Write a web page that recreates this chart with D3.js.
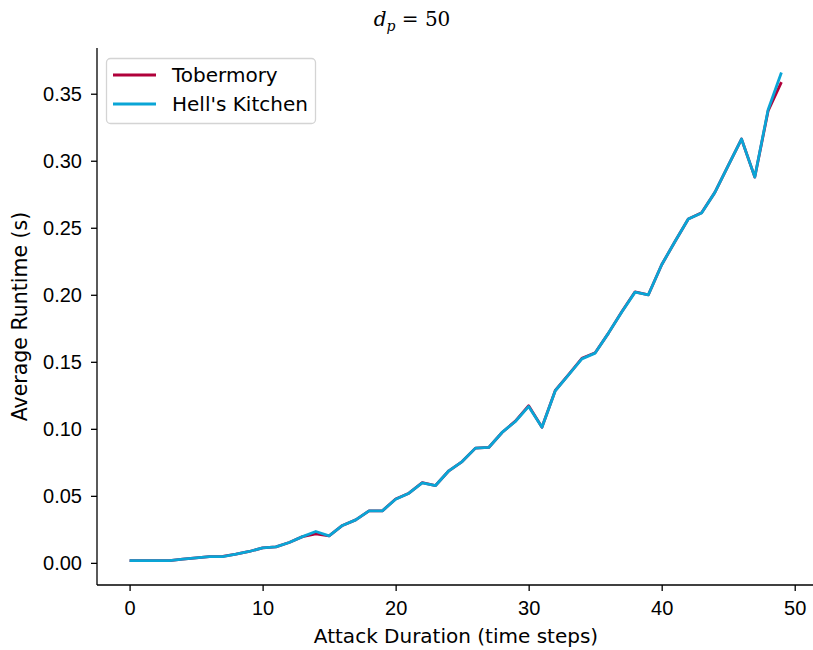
<!DOCTYPE html>
<html>
<head>
<meta charset="utf-8">
<script src="https://cdn.jsdelivr.net/npm/d3@7"></script>
<style>
	body{margin:0;background:#fff;}
	svg{display:block;font-family:'DejaVu Sans',sans-serif;}
	.tick text{font-size:20px;fill:#000;}
</style>
</head>
<body>
<svg id="chart" width="813" height="650"></svg>
<script>
const steps = d3.range(0,50);
const tobermory = [
	0.0017,0.0017,0.0017,0.0017,0.0028,0.0037,0.0047,0.0048,0.0065,0.0085,
	0.0112,0.0119,0.0152,0.0196,0.0217,0.0201,0.0279,0.0321,0.0388,0.0388,
	0.0476,0.0520,0.0598,0.0577,0.0687,0.0756,0.0856,0.0861,0.0973,0.1057,
	0.1172,0.1012,0.1286,0.1405,0.1526,0.1568,0.1714,0.1873,0.2022,0.2000,
	0.2224,0.2398,0.2566,0.2612,0.2764,0.2963,0.3162,0.2878,0.3372,0.3587
];
const hellsKitchen = [
	0.0017,0.0017,0.0017,0.0017,0.0028,0.0037,0.0047,0.0047,0.0065,0.0085,
	0.0112,0.0119,0.0152,0.0196,0.0234,0.0201,0.0279,0.0321,0.0388,0.0388,
	0.0475,0.0520,0.0597,0.0577,0.0687,0.0756,0.0856,0.0861,0.0973,0.1055,
	0.1167,0.1012,0.1284,0.1403,0.1522,0.1565,0.1714,0.1871,0.2020,0.2000,
	0.2224,0.2398,0.2565,0.2610,0.2764,0.2963,0.3162,0.2878,0.3381,0.3659
];
const seriesNames = ['Tobermory',"Hell's Kitchen"];
const seriesColors = ['#b0003a','#0aa5d6'];
const xTicks = [0,10,20,30,40,50];
const yTicks = [0,0.05,0.10,0.15,0.20,0.25,0.30,0.35];

const svg = d3.select('#chart');
const plot = {left:97, right:814, top:48, bottom:585};

// matplotlib style 5% margins
const xExt = d3.extent(steps);
const xPad = (xExt[1]-xExt[0])*0.05;
const allY = tobermory.concat(hellsKitchen);
const yExt = d3.extent(allY);
const yPad = (yExt[1]-yExt[0])*0.05;

const xScale = d3.scaleLinear()
	.domain([xExt[0]-xPad,xExt[1]+xPad])
	.range([plot.left,plot.right]);
const yScale = d3.scaleLinear()
	.domain([yExt[0]-yPad,yExt[1]+yPad])
	.range([plot.bottom,plot.top]);

const xAxis = d3.axisBottom(xScale)
	.tickValues(xTicks)
	.tickFormat(d3.format('d'))
	.tickSize(6)
	.tickPadding(6);
const yAxis = d3.axisLeft(yScale)
	.tickValues(yTicks)
	.tickFormat(d3.format('.2f'))
	.tickSize(6)
	.tickPadding(9);

const gx = svg.append('g')
	.attr('transform','translate(0,'+plot.bottom+')')
	.call(xAxis);
const gy = svg.append('g')
	.attr('transform','translate('+plot.left+',0)')
	.call(yAxis);
[gx,gy].forEach(g=>{
	g.select('.domain').remove();
	g.selectAll('.tick line').attr('stroke','#000').attr('stroke-width',1.3);
});
gx.selectAll('.tick text').attr('dy','0.9em');

// spines (left and bottom only)
svg.append('line')
	.attr('x1',plot.left).attr('x2',plot.left)
	.attr('y1',plot.top).attr('y2',plot.bottom)
	.attr('stroke','#000').attr('stroke-width',1.3);
svg.append('line')
	.attr('x1',plot.left).attr('x2',plot.right)
	.attr('y1',plot.bottom).attr('y2',plot.bottom)
	.attr('stroke','#000').attr('stroke-width',1.3);

const line = d3.line()
	.x((d,i)=>xScale(steps[i]))
	.y(d=>yScale(d));

svg.selectAll('path.series')
	.data([tobermory,hellsKitchen])
	.join('path')
		.classed('series',true)
		.attr('d',line)
		.attr('fill','none')
		.attr('stroke',(d,i)=>seriesColors[i])
		.attr('stroke-width',2.8)
		.attr('stroke-linejoin','round');

// legend
const legend = svg.append('g').attr('transform','translate(106,58)');
legend.append('rect')
	.attr('x',0.5).attr('y',0.5)
	.attr('width',209).attr('height',65)
	.attr('rx',4)
	.attr('fill','rgba(255,255,255,0.8)')
	.attr('stroke','#d4d4d4')
	.attr('stroke-width',1.3);
seriesNames.forEach((name,i)=>{
	const yy = 17 + i*29;
	legend.append('line')
		.attr('x1',7).attr('x2',50)
		.attr('y1',yy).attr('y2',yy)
		.attr('stroke',seriesColors[i])
		.attr('stroke-width',2.8);
	legend.append('text')
		.attr('x',66).attr('y',yy)
		.attr('dy','0.36em')
		.attr('font-size','20px')
		.text(name);
});

// axis labels
svg.append('text')
	.attr('x',456)
	.attr('y',643)
	.attr('text-anchor','middle')
	.attr('font-size','20px')
	.text('Attack Duration (time steps)');
svg.append('text')
	.attr('transform','translate(27,'+((plot.top+plot.bottom)/2)+') rotate(-90)')
	.attr('text-anchor','middle')
	.attr('font-size','20.5px')
	.text('Average Runtime (s)');

// title d_p = 50
const title = svg.append('text')
	.attr('x',412)
	.attr('y',26)
	.attr('text-anchor','middle')
	.attr('font-family',"'DejaVu Serif',serif")
	.attr('font-size','20px');
title.append('tspan').attr('font-style','italic').text('d');
title.append('tspan').attr('font-style','italic').attr('font-size','14px').attr('dy',5).text('p');
title.append('tspan').attr('dy',-5).text(' = 50');
</script>
</body>
</html>
